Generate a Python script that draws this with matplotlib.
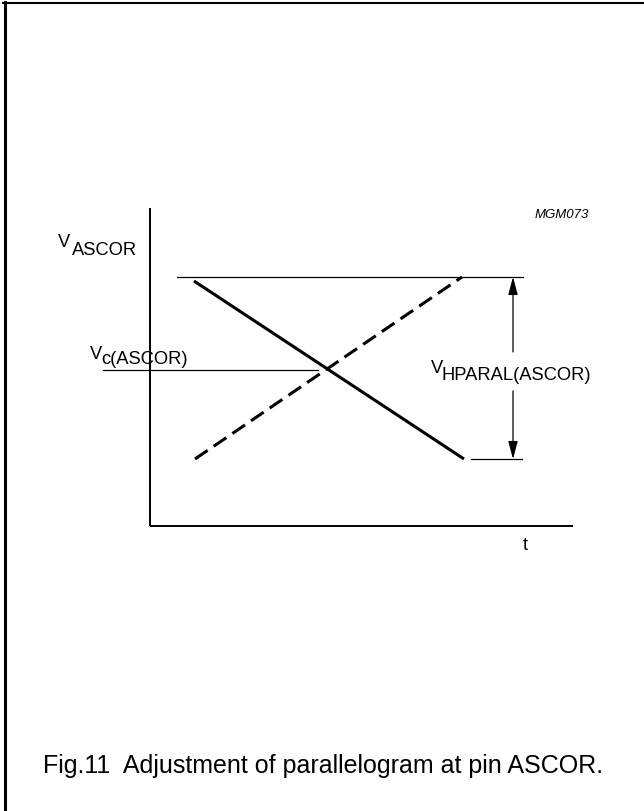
import matplotlib
matplotlib.use("Agg")
import matplotlib.pyplot as plt

plt.rcParams['font.family'] = ['Liberation Sans', 'DejaVu Sans']

# schematic values (t and V in arbitrary units)
t_axis_end = 4.23
v_axis_end = 3.18

t_solid = [0.44, 3.14]
v_solid = [2.45, 0.67]

t_dashed = [0.45, 3.12]
v_dashed = [0.67, 2.49]

v_high = 2.49
v_low = 0.67
v_c = 1.56
t_high_ref = [0.27, 3.73]
t_low_ref = [3.21, 3.72]
t_c_ref = [-0.47, 1.68]

t_arrow = 3.63
v_gap = [1.74, 1.35]   # arrow is broken here for the label

caption = "Fig.11  Adjustment of parallelogram at pin ASCOR."

fig = plt.figure(figsize=(6.44, 8.12), dpi=100)
ax = fig.add_axes([0, 0, 1, 1])
# 100 px per unit, origin at (150, 527) px
ax.set_xlim(-1.50, 4.94)
ax.set_ylim(-2.85, 5.27)
ax.axis('off')

# frame (top + left only)
fig.add_artist(plt.Line2D([4.5 / 644, 4.5 / 644], [0, 1 - 3 / 812], color='black', lw=2.2))
fig.add_artist(plt.Line2D([3 / 644, 1], [1 - 3.7 / 812, 1 - 3.7 / 812], color='black', lw=1.5))

# axes
ax.plot([0, t_axis_end], [0, 0], color='black', lw=1.4, solid_capstyle='butt')
ax.plot([0, 0], [0, v_axis_end], color='black', lw=1.4, solid_capstyle='butt')

# reference lines
ax.plot(t_high_ref, [v_high, v_high], color='black', lw=0.9)
ax.plot(t_low_ref, [v_low, v_low], color='black', lw=0.9)
ax.plot(t_c_ref, [v_c, v_c], color='black', lw=0.9)

# the two ramps
ax.plot(t_solid, v_solid, color='black', lw=2.2, solid_capstyle='butt')
ax.plot(t_dashed, v_dashed, color='black', lw=2.2, linestyle=(0, (5, 2.4)),
        dash_capstyle='butt')

# amplitude arrows
arrow_kw = dict(arrowstyle='-|>,head_length=10.8,head_width=2.9', mutation_scale=1,
                color='black', lw=0.9, shrinkA=0, shrinkB=0)
ax.annotate('', xy=(t_arrow, v_high), xytext=(t_arrow, v_gap[0]), arrowprops=arrow_kw)
ax.annotate('', xy=(t_arrow, v_low), xytext=(t_arrow, v_gap[1]), arrowprops=arrow_kw)

# labels
fs = 13.2
ax.text(-0.92, 2.80, 'V', fontsize=fs, ha='left', va='baseline')
ax.text(-0.78, 2.72, 'ASCOR', fontsize=fs, ha='left', va='baseline')
ax.text(-0.60, 1.68, 'V', fontsize=fs, ha='left', va='baseline')
ax.text(-0.49, 1.63, 'c(ASCOR)', fontsize=fs, ha='left', va='baseline')
ax.text(2.81, 1.54, 'V', fontsize=fs, ha='left', va='baseline')
ax.text(2.92, 1.47, 'HPARAL(ASCOR)', fontsize=fs, ha='left', va='baseline')
ax.text(3.73, -0.23, 't', fontsize=fs, ha='left', va='baseline')
ax.text(3.85, 3.09, 'MGM073', fontsize=9.5, style='italic', ha='left', va='baseline')

ax.text(-1.07, -2.46, caption, fontsize=18, ha='left', va='baseline')

fig.savefig('out.png', dpi=100, facecolor='white')
